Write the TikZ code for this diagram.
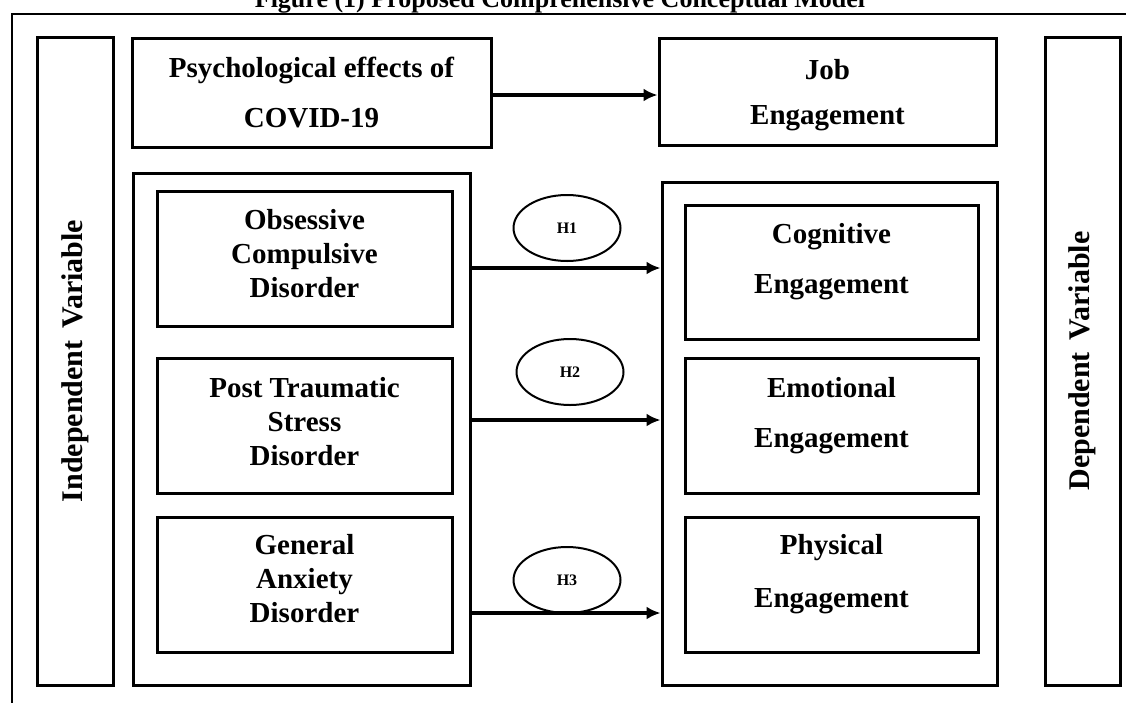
\documentclass[tikz,border=0pt]{standalone}
\usepackage{fontspec}
\setmainfont{Liberation Serif}
\usetikzlibrary{arrows.meta,shapes.geometric}
\begin{document}
\begin{tikzpicture}[x=1pt, y=-1pt, >={Latex[length=14pt,width=13pt]},
  box/.style={draw, line width=3pt, inner sep=0pt},
  txt/.style={align=center, font=\fontsize{29}{34}\selectfont\bfseries},
  wide/.style={align=center, font=\fontsize{29}{50}\selectfont\bfseries},
  side/.style={rotate=90, font=\fontsize{30}{34}\selectfont\bfseries},
  hyp/.style={draw, ellipse, line width=2pt, inner sep=0pt, minimum width=107pt, minimum height=66pt, font=\fontsize{16}{18}\selectfont\bfseries},
  link/.style={->, line width=3.2pt}]
\useasboundingbox (0,0) rectangle (1126,702);
\clip (0,0) rectangle (1126,702);

% frame and title
\draw[line width=2.6pt] (12,710) -- (12,14) -- (1130,14);
\node[anchor=base, font=\fontsize{26}{30}\selectfont\bfseries] (title) at (560,7) {Figure (1) Proposed Comprehensive Conceptual Model};

% side columns
\node[box, minimum width=76pt, minimum height=648pt] (ind) at (75,361) {};
\node[side] (indtxt) at (ind) {Independent\hspace{.4em}Variable};
\node[box, minimum width=75pt, minimum height=648pt] (dep) at (1082.5,361) {};
\node[side] (deptxt) at (dep) {Dependent\hspace{.4em}Variable};

% top row
\node[box, minimum width=359pt, minimum height=109pt] (psy) at (311.5,92.5) {};
\node[wide] (psytxt) at (psy) {Psychological effects of\\COVID-19};
\node[box, minimum width=337pt, minimum height=107pt] (job) at (827.5,91.5) {};
\node[wide, font=\fontsize{29}{45}\selectfont\bfseries] (jobtxt) at ([yshift=-4pt]job.center) {Job\\Engagement};
\draw[link] ([yshift=-2.5pt]psy.east) -- ([yshift=-3.5pt]job.west);

% independent dimensions
\node[box, minimum width=337pt, minimum height=512pt] (left) at (301.5,429) {};
\node[box, minimum width=295pt, minimum height=135pt] (ocd) at (304.5,258.5) {};
\node[txt] (ocdtxt) at ([yshift=4.5pt]ocd.center) {Obsessive\\Compulsive\\Disorder};
\node[box, minimum width=295pt, minimum height=135pt] (ptsd) at (304.5,425.5) {};
\node[txt] (ptsdtxt) at ([yshift=4pt]ptsd.center) {Post Traumatic\\Stress\\Disorder};
\node[box, minimum width=295pt, minimum height=135pt] (gad) at (304.5,584.5) {};
\node[txt] (gadtxt) at ([yshift=5.5pt]gad.center) {General\\Anxiety\\Disorder};

% dependent dimensions
\node[box, minimum width=335pt, minimum height=503pt] (right) at (829.5,433.5) {};
\node[box, minimum width=293pt, minimum height=134pt] (cog) at (831.5,272) {};
\node[wide] (cogtxt) at ([yshift=10.5pt]cog.center) {Cognitive\\Engagement};
\node[box, minimum width=293pt, minimum height=135pt] (emo) at (831.5,425.5) {};
\node[wide] (emotxt) at ([yshift=9.5pt]emo.center) {Emotional\\Engagement};
\node[box, minimum width=293pt, minimum height=135pt] (phy) at (831.5,584.5) {};
\node[wide, font=\fontsize{29}{53}\selectfont\bfseries] (phytxt) at ([yshift=10pt]phy.center) {Physical\\Engagement};

% hypotheses
\coordinate (s1) at (470,268);
\coordinate (s2) at (470,420);
\coordinate (s3) at (470,613);
\draw[link] (s1) -- (s1 -| right.west);
\draw[link] (s2) -- (s2 -| right.west);
\draw[link] (s3) -- (s3 -| right.west);
\node[hyp] (h1) at (567,228) {H1};
\node[hyp] (h2) at (570,372) {H2};
\node[hyp] (h3) at (567,580) {H3};

\end{tikzpicture}
\end{document}
